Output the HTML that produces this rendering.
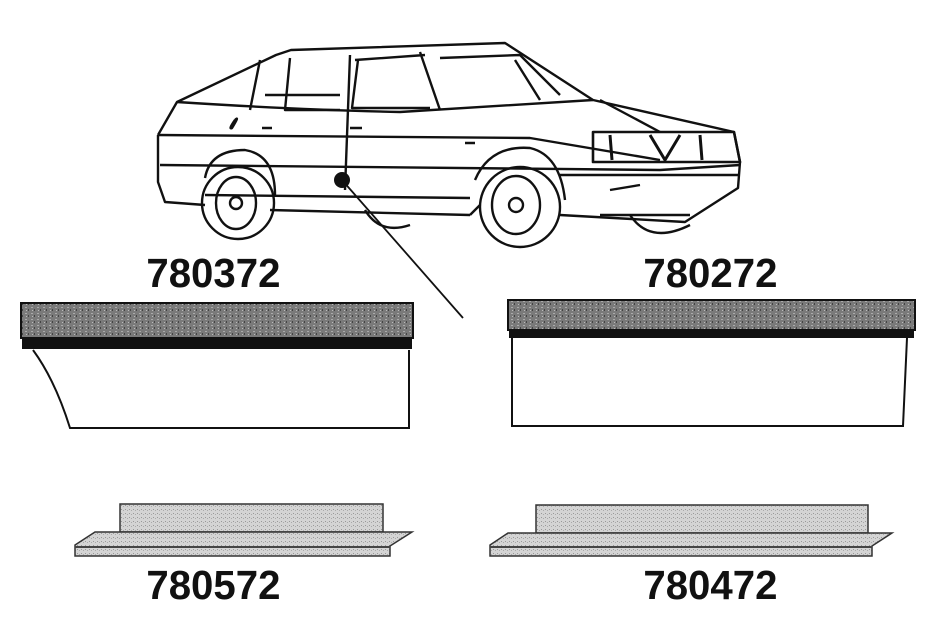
<!DOCTYPE html>
<html><head><meta charset="utf-8"><style>
html,body{margin:0;padding:0;background:#fff;width:933px;height:633px;overflow:hidden}
.l{position:absolute;font-family:"Liberation Sans",sans-serif;font-weight:bold;font-size:41px;color:#111;transform:scaleX(0.98)}
</style></head><body>
<svg width="933" height="633" style="position:absolute;left:0;top:0">
<defs>
<pattern id="n1" width="6" height="6" patternUnits="userSpaceOnUse"><rect width="6" height="6" fill="#7a7a7a"/><rect x="1" y="1" width="2" height="1" fill="#aaa"/><rect x="4" y="3" width="1" height="2" fill="#444"/><rect x="2" y="4" width="1" height="1" fill="#bbb"/></pattern>
<pattern id="n2" width="4" height="4" patternUnits="userSpaceOnUse"><rect width="4" height="4" fill="#d4d4d4"/><rect x="1" y="1" width="1" height="1" fill="#999"/><rect x="3" y="2" width="1" height="1" fill="#aaa"/></pattern>
</defs>
<g fill="none" stroke="#111" stroke-width="2.4" stroke-linejoin="round">
<!-- car body -->
<path d="M158,135 L177,102 L276,55 L291,50 L505,43 L593,100 L734,132 L740,162 L738,188 L685,222 L560,215 M158,135 L158,182 L165,202 L205,205"/>
<path d="M177,102 Q300,110 400,112 L593,100"/>
<path d="M158,135 L530,138 L660,160"/>
<path d="M160,165 L660,170 L740,165"/>
<path d="M205,195 L470,198"/>
<path d="M270,210 L470,215"/>
<path d="M260,60 L250,110 M290,58 L285,110 L340,110 M350,55 L345,190 M420,52 L440,110 M355,60 L425,55"/>
<path d="M265,95 L340,95 M358,60 L352,108 L430,108 M440,58 L520,55 L560,95 M515,60 L540,100"/>
<path d="M593,132 L734,132 L740,162 L593,162 Z" stroke-width="2.6"/>
<path d="M610,135 L612,160 M650,135 L665,160 L680,135 M700,135 L702,160" stroke-width="3"/>
<path d="M600,100 L660,132"/>
<path d="M560,175 L738,175 M610,190 L640,185"/>
<path d="M470,215 L480,205 M600,215 L690,215"/>
<path d="M235,120 Q228,130 232,128 Q240,115 235,120 M262,128 L272,128 M350,128 L362,128 M465,143 L475,143"/>
<!-- wheels -->
<path d="M205,178 Q210,150 245,150 Q275,155 275,195"/>
<circle cx="238" cy="203" r="36"/>
<ellipse cx="236" cy="203" rx="20" ry="26"/>
<circle cx="236" cy="203" r="6"/>
<path d="M475,180 Q490,145 530,148 Q560,155 565,200"/>
<circle cx="520" cy="207" r="40"/>
<ellipse cx="516" cy="205" rx="24" ry="29"/>
<circle cx="516" cy="205" r="7"/>
<path d="M630,215 Q650,245 690,225"/>
<path d="M365,210 Q380,235 410,225"/>
<line x1="342" y1="180" x2="463" y2="318" stroke-width="1.8"/>
</g>
<circle cx="342" cy="180" r="8" fill="#111"/>
<!-- left panel -->
<rect x="21" y="303" width="392" height="35" fill="url(#n1)" stroke="#111" stroke-width="2"/>
<rect x="22" y="337" width="390" height="12" fill="#111"/>
<path d="M33,350 Q55,380 70,428 L409,428 L409,350" fill="#fff" stroke="#111" stroke-width="2"/>
<!-- right panel -->
<rect x="508" y="300" width="407" height="30" fill="url(#n1)" stroke="#111" stroke-width="2"/>
<rect x="509" y="329" width="405" height="9" fill="#111"/>
<path d="M512,338 L512,426 L903,426 L907,338" fill="#fff" stroke="#111" stroke-width="2"/>
<!-- bottom left -->
<rect x="120" y="504" width="263" height="28" fill="url(#n2)" stroke="#333" stroke-width="1.5"/>
<path d="M75,552 L75,545 L95,532 L412,532 L390,546 L390,556 L75,556 Z" fill="url(#n2)" stroke="#333" stroke-width="1.5"/>
<line x1="75" y1="547" x2="390" y2="547" stroke="#444" stroke-width="2"/>
<!-- bottom right -->
<rect x="536" y="505" width="332" height="28" fill="url(#n2)" stroke="#333" stroke-width="1.5"/>
<path d="M490,552 L490,545 L508,533 L892,533 L872,546 L872,556 L490,556 Z" fill="url(#n2)" stroke="#333" stroke-width="1.5"/>
<line x1="490" y1="547" x2="872" y2="547" stroke="#444" stroke-width="2"/>
</svg>
<div class="l" style="left:145px;top:250px">780372</div>
<div class="l" style="left:642px;top:250px">780272</div>
<div class="l" style="left:145px;top:562px">780572</div>
<div class="l" style="left:642px;top:562px">780472</div>
</body></html>
